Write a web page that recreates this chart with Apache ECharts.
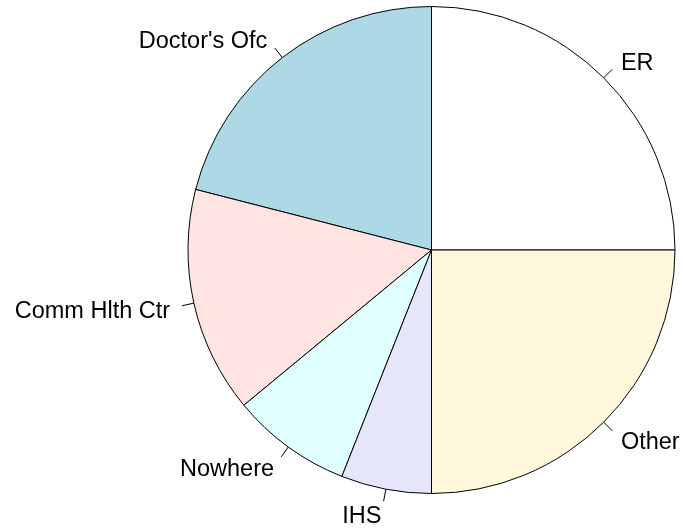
<!DOCTYPE html>
<html>
<head>
<meta charset="utf-8">
<script src="https://cdn.jsdelivr.net/npm/echarts@6/dist/echarts.min.js"></script>
<style>
  html, body { margin: 0; padding: 0; background: #fff; }
  #chart { width: 683px; height: 528px; }
</style>
</head>
<body>
<div id="chart"></div>
<script>
// slices in R order (counter-clockwise from 3 o'clock)
const categories = ['ER', "Doctor's Ofc", 'Comm Hlth Ctr', 'Nowhere', 'IHS', 'Other']
const values = [25, 21, 15, 8, 6, 25]
const sliceColors = ['#FFFFFF', '#ADD8E6', '#FFE4E1', '#E0FFFF', '#E6E6FA', '#FFF8DC']

const chart = echarts.init(document.getElementById('chart'))

const pieRadius = 243.5

const option = {
  animation: false,
  backgroundColor: '#fff',
  series: [{
    type: 'pie',
    center: [431.5, 250],
    radius: pieRadius,
    startAngle: 0,
    clockwise: false,
    avoidLabelOverlap: false,
    itemStyle: {
      borderColor: '#000',
      borderWidth: 1
    },
    label: {
      show: true,
      position: 'outside',
      color: '#000',
      fontFamily: 'Liberation Sans, Arial, sans-serif',
      fontSize: 23.5
    },
    labelLine: {
      show: true,
      length: pieRadius * 0.05,
      length2: 1,
      smooth: false,
      lineStyle: { color: '#000', width: 1 }
    },
    // R style: tick from r to 1.05r, text anchored at 1.1r along the same ray
    labelLayout: (params) => {
      const pts = params.labelLinePoints
      if (!pts) return {}
      const p0 = pts[0], p1 = pts[1]
      const dx = p1[0] - p0[0]
      const dy = p1[1] - p0[1]
      return {
        x: p1[0] + dx,
        y: p1[1] + dy + 3, // R centres on cap height, a bit lower than canvas 'middle'
        align: dx < 0 ? 'right' : 'left',
        verticalAlign: 'middle',
        labelLinePoints: [p0, p1, p1]
      }
    },
    emphasis: { disabled: true },
    data: categories.map((name, i) => ({
      name: name,
      value: values[i],
      itemStyle: { color: sliceColors[i] }
    }))
  }]
}

chart.setOption(option)
</script>
</body>
</html>
